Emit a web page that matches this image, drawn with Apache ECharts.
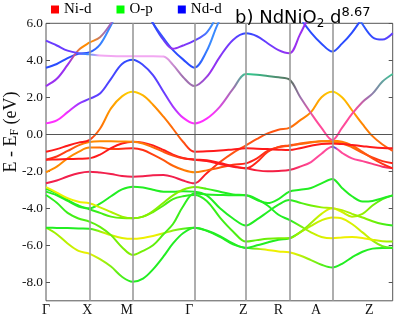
<!DOCTYPE html>
<html><head><meta charset="utf-8">
<script src="https://cdn.jsdelivr.net/npm/echarts@6/dist/echarts.min.js"></script>
<style>html,body{margin:0;padding:0;background:#fff}#c{width:399px;height:315px}</style>
</head><body><div id="c"></div>
<script>
// ---- k-path (distance along the path) ----
const kPath = [0,10.8,21.6,32.5,43.3,54,65,76,86.7,97,107,117.5,127,137,148.3,160.7,174,187,200,211,221.6,232.5,243.3,254,265,275.5,286.3,296,306,316.5,326.5,336.5,346.7];
const kEnd = 346.7;
const symPoints = [43.3, 86.7, 148.3, 200, 243.3, 286.3];
const tickPos = [0, 41.3, 80.7, 143.3, 197.3, 232.3, 270, 323.3];
const tickLabels = ['Γ','X','M','Γ','Z','R','A','Z'];
const yTicks = [-8,-6,-4,-2,0,2,4,6];
const legendNames = ['Ni-d','O-p','Nd-d'];

// ---- band energies (eV) at kPath ----
const bandC1 = [0.59,0.75,1.2,1.65,1.91,2.2,3.0,3.8,4.03,3.75,3.2,2.3,1.5,0.9,0.59,0.85,1.5,2.45,3.26,3.22,3.15,3.08,2.97,2.03,1.14,0.35,-0.31,0.35,1.1,1.75,2.2,2.85,3.26];
const bandC2 = [5.06,4.8,4.52,4.38,4.32,4.26,4.23,4.22,4.22,4.22,4.22,4.2,3.75,3.1,2.61,3.1,4.2,5.1,5.46,5.3,4.92,4.55,4.38,5.4,6.6,7.6,8.2,8.4,8.4,8.3,8.2,8.1,8.0];
const bandC3 = [2.61,3.0,3.75,4.55,4.95,5.25,6.0,7.0,7.6,7.0,6.0,5.1,4.62,4.8,5.06,5.5,6.6,7.2,7.6,7.5,7.5,7.6,7.8,8,8,8,8,7.6,6.9,5.95,5.25,5.12,5.46];
const bandC4 = [3.6,3.8,4.12,4.35,4.43,4.85,5.9,7.0,7.8,7.0,6.0,5.2,4.55,4.05,3.6,4.5,6.2,7.0,7.5,7.6,7.6,7.5,7.2,6.3,5.5,4.9,4.47,4.9,5.5,6.3,7.0,7.5,7.5];
const bandY  = [-0.94,-0.8,-0.62,-0.45,-0.31,0.3,1.4,2.05,2.30,2.1,1.6,0.95,0.3,-0.4,-0.94,-0.92,-0.88,-0.82,-0.76,-0.78,-0.8,-0.83,-0.85,-0.75,-0.62,-0.52,-0.5,-0.53,-0.58,-0.64,-0.7,-0.74,-0.76];
const bandR5 = [-2.65,-2.5,-2.28,-2.1,-2.02,-2.07,-2.15,-2.25,-2.29,-2.27,-2.22,-2.2,-2.3,-2.5,-2.65,-2.1,-1.5,-1.0,-0.6,-0.25,0.05,0.25,0.35,0.75,1.2,2.0,2.30,2.0,1.3,0.55,-0.1,-0.55,-0.9];
const bandD1 = [-1.37,-1.2,-0.9,-0.6,-0.42,-0.38,-0.38,-0.39,-0.4,-0.5,-0.7,-0.95,-1.15,-1.3,-1.37,-1.4,-1.55,-1.72,-1.84,-1.5,-0.95,-0.68,-0.6,-0.52,-0.45,-0.38,-0.35,-0.4,-0.6,-0.95,-1.3,-1.6,-1.84];
const bandD2 = [-1.37,-1.36,-1.34,-1.32,-1.3,-1.1,-0.75,-0.5,-0.4,-0.45,-0.6,-0.85,-1.1,-1.28,-1.37,-1.45,-1.6,-1.75,-1.84,-1.95,-2.0,-1.98,-1.93,-1.75,-1.5,-1.05,-0.67,-1.0,-1.3,-1.45,-1.6,-1.75,-1.84];
const bandD3 = [-2.05,-1.75,-1.3,-0.95,-0.72,-0.72,-0.8,-0.78,-0.76,-0.85,-1.1,-1.4,-1.7,-1.92,-2.05,-1.95,-1.8,-1.65,-1.57,-1.3,-0.9,-0.7,-0.62,-0.5,-0.42,-0.38,-0.4,-0.48,-0.7,-1.0,-1.25,-1.45,-1.57];
const bandO1 = [-2.85,-3.15,-3.45,-3.65,-3.73,-3.95,-4.2,-4.45,-4.54,-4.45,-4.15,-3.7,-3.3,-3.0,-2.85,-2.95,-3.1,-3.25,-3.3,-3.55,-3.72,-3.5,-3.1,-3.0,-2.9,-2.65,-2.41,-2.9,-3.35,-3.63,-3.6,-3.45,-3.3];
const bandO2 = [-2.95,-3.2,-3.55,-3.85,-4.0,-3.75,-3.35,-2.98,-2.83,-2.88,-3.0,-3.1,-3.1,-3.08,-3.1,-3.3,-4.0,-4.55,-4.93,-4.6,-4.2,-3.8,-3.55,-3.7,-3.85,-3.95,-4.0,-4.1,-4.3,-4.5,-4.7,-4.85,-4.93];
const bandO3 = [-3.28,-3.7,-4.25,-4.55,-4.72,-5.0,-5.45,-6.1,-6.52,-6.3,-6.0,-5.4,-4.85,-3.9,-3.2,-3.25,-3.28,-3.3,-3.3,-3.5,-3.85,-4.35,-4.63,-4.95,-5.3,-5.55,-5.62,-5.58,-5.55,-5.6,-5.7,-5.78,-5.8];
const bandO4 = [-3.1,-3.3,-3.6,-3.9,-4.05,-4.25,-4.45,-4.53,-4.54,-4.45,-4.2,-3.85,-3.5,-3.35,-3.28,-3.6,-4.5,-5.25,-5.8,-5.72,-5.65,-5.62,-5.62,-5.3,-4.95,-4.65,-4.5,-4.55,-4.85,-5.3,-5.75,-6.05,-6.14];
const bandO5 = [-5.05,-5.06,-5.07,-5.09,-5.1,-5.25,-5.45,-5.6,-5.65,-5.6,-5.5,-5.35,-5.2,-5.1,-5.05,-5.2,-5.5,-5.9,-6.14,-6.0,-5.85,-5.7,-5.62,-5.3,-4.8,-4.3,-4.0,-4.2,-4.45,-4.3,-3.85,-3.5,-3.3];
const bandO6 = [-5.05,-5.4,-5.9,-6.3,-6.45,-6.75,-7.15,-7.7,-7.97,-7.8,-7.3,-6.6,-5.9,-5.35,-5.05,-5.22,-5.55,-5.95,-6.14,-6.18,-6.25,-6.33,-6.38,-6.55,-6.8,-7.05,-7.2,-7.0,-6.65,-6.35,-6.18,-6.14,-6.14];

// ---- orbital character along each band: [k, character code] ----
const charC1 = [[0,'m'],[20,'m'],[43.3,'P'],[86.7,'b'],[120,'P'],[140,'m'],[165,'m'],[187,'u'],[200,'t'],[243.3,'k'],[254,'u'],[268,'n'],[305,'n'],[320,'u'],[346.7,'t']];
const charC2 = [[0,'P'],[30,'P'],[43.3,'B'],[55,'l'],[117,'l'],[137,'u'],[148.3,'u'],[165,'p'],[187,'P'],[200,'b'],[221,'P'],[243.3,'p'],[346.7,'p']];
const charC3 = [[0,'p'],[25,'p'],[38,'o'],[48,'o'],[60,'u'],[86.7,'p'],[110,'b'],[127,'p'],[148.3,'P'],[165,'B'],[300,'B'],[320,'b'],[346.7,'P']];
const charC4 = [[0,'b'],[43.3,'b'],[60,'B'],[130,'b'],[148.3,'b'],[165,'B'],[260,'b'],[286.3,'b'],[310,'b'],[346.7,'B']];
const charY  = [[0,'r'],[43.3,'r'],[50,'O'],[62,'o'],[86.7,'y'],[112,'o'],[138,'O'],[148.3,'r'],[346.7,'r']];
const charR5 = [[0,'c'],[148.3,'c'],[160,'r'],[180,'O'],[230,'O'],[262,'o'],[286.3,'y'],[312,'o'],[346.7,'O']];
const charD1 = [[0,'r'],[30,'O'],[43.3,'o'],[86.7,'o'],[120,'O'],[148.3,'r'],[200,'r'],[243.3,'O'],[286.3,'o'],[320,'O'],[346.7,'r']];
const charD2 = [[0,'r'],[148.3,'r'],[243.3,'c'],[262,'n'],[283,'n'],[286.3,'b'],[290,'n'],[312,'n'],[346.7,'c']];
const charD3 = [[0,'o'],[43.3,'o'],[86.7,'r'],[148.3,'o'],[200,'r'],[243.3,'O'],[286.3,'o'],[346.7,'r']];
const charO1 = [[0,'w'],[43.3,'w'],[86.7,'G'],[148.3,'G'],[170,'g'],[346.7,'g']];
const charO2 = [[0,'g'],[243.3,'g'],[270,'G'],[286.3,'Y'],[320,'G'],[346.7,'g']];
const charO3 = [[0,'g'],[86.7,'G'],[148.3,'g'],[243.3,'g'],[265,'Y'],[286.3,'w'],[320,'w'],[346.7,'G']];
const charO4 = [[0,'g'],[43.3,'g'],[86.7,'G'],[148.3,'g'],[243.3,'G'],[286.3,'w'],[320,'Y'],[346.7,'g']];
const charO5 = [[0,'g'],[43.3,'g'],[60,'Y'],[86.7,'w'],[110,'w'],[148.3,'g'],[243.3,'g'],[270,'Y'],[286.3,'w'],[320,'G'],[346.7,'g']];
const charO6 = [[0,'G'],[43.3,'w'],[86.7,'g'],[148.3,'g'],[200,'g'],[220,'w'],[243.3,'w'],[286.3,'g'],[346.7,'g']];

// ---- styles ----
const PALETTE = {
  r:'#ff1a1a', c:'#f2204c', O:'#ff5412', o:'#ff8a00', y:'#ffd800',
  w:'#eef000', Y:'#c4f000', G:'#84f000', g:'#22ee22',
  t:'#30cc90', k:'#5a7060', m:'#ff30ff', p:'#9a30f0', P:'#6a3cff',
  b:'#2a4cff', B:'#3a8cff', l:'#f2a8f2', n:'#ff4a9a', u:'#a070b0'
};
const LEGEND_COLORS = ['#ff0000','#00ff00','#0000ff'];

const bands = [
  [bandO6,charO6],[bandO5,charO5],[bandO4,charO4],[bandO3,charO3],[bandO2,charO2],[bandO1,charO1],
  [bandR5,charR5],[bandD3,charD3],[bandD2,charD2],[bandD1,charD1],[bandY,charY],
  [bandC4,charC4],[bandC3,charC3],[bandC2,charC2],[bandC1,charC1]
];

function grad(ch){
  return new echarts.graphic.LinearGradient(0,0,1,0,
    ch.map(([k,c]) => ({offset: k / kEnd, color: PALETTE[c]})));
}

const serif = 'Liberation Serif';
const series = [];
// helper series carrying the high-symmetry lines and the Fermi level
series.push({
  type:'line', data:[[0,0]], symbol:'none', silent:true, z:1,
  lineStyle:{width:0},
  markLine:{
    silent:true, symbol:'none', animation:false,
    label:{show:false},
    lineStyle:{color:'#9a9a9a', width:1.6, type:'solid'},
    data: symPoints.map(k => ({xAxis:k})).concat([{yAxis:0, lineStyle:{color:'#555', width:1, type:'solid'}}])
  }
});
bands.forEach(([e,ch]) => {
  series.push({
    type:'line', data: kPath.map((k,i)=>[k,e[i]]),
    symbol:'none', showSymbol:false, smooth:0.35, silent:true, z:3,
    lineStyle:{width:2, color: grad(ch)}
  });
});
legendNames.forEach((n,i) => {
  series.push({name:n, type:'line', data:[], itemStyle:{color:LEGEND_COLORS[i]}, lineStyle:{color:LEGEND_COLORS[i]}});
});

const chart = echarts.init(document.getElementById('c'), null, {renderer:'canvas'});
chart.setOption({
  animation:false,
  backgroundColor:'#fff',
  title:{
    left:230, top:1,
    text:'{a|b) NdNiO}{sub|2}{a| d}{sup|8.67}',
    textStyle:{
      fontWeight:'normal',
      rich:{
        a:{fontFamily:'DejaVu Sans', fontWeight:'normal', fontSize:18, color:'#000', lineHeight:24, verticalAlign:'middle'},
        sub:{fontFamily:'DejaVu Sans', fontWeight:'normal', fontSize:12, color:'#000', lineHeight:13, verticalAlign:'bottom'},
        sup:{fontFamily:'DejaVu Sans', fontWeight:'normal', fontSize:13, color:'#000', lineHeight:13, verticalAlign:'top'}
      }
    }
  },
  legend:{
    left:46, top:-3, icon:'rect', itemWidth:8, itemHeight:8, itemGap:25,
    data: legendNames,
    textStyle:{fontFamily:serif, fontSize:15, color:'#000'}
  },
  grid:{left:46, right:6.3, top:23.3, bottom:14.2, show:true, borderColor:'#555', borderWidth:1, containLabel:false, outerBoundsMode:'none'},
  xAxis:{
    type:'value', min:0, max:kEnd,
    axisLine:{show:false}, axisTick:{show:false}, splitLine:{show:false},
    axisLabel:{
      customValues: tickPos,
      formatter: v => { const i = tickPos.findIndex(p => Math.abs(p - v) < 0.01); return i >= 0 ? tickLabels[i] : ''; },
      fontFamily:serif, fontSize:14, color:'#111', margin:3
    }
  },
  yAxis:[{
    type:'value', min:-9, max:6,
    axisLine:{show:false}, splitLine:{show:false},
    axisTick:{show:true, inside:true, length:4, customValues:yTicks, lineStyle:{color:'#555'}},
    axisLabel:{customValues:yTicks, formatter: v => Number(v).toFixed(1), fontFamily:serif, fontSize:13.3, color:'#111', margin:3}
  },{
    type:'value', min:-9, max:6, position:'right',
    axisLine:{show:false}, splitLine:{show:false}, axisLabel:{show:false},
    axisTick:{show:true, inside:true, length:4, customValues:yTicks, lineStyle:{color:'#555'}}
  }],
  graphic:[{
    type:'text', x:11, y:132, rotation:Math.PI/2, silent:true,
    style:{
      text:'{a|E - E}{s|F}{a| (eV)}',
      align:'center', verticalAlign:'middle',
      rich:{
        a:{fontFamily:serif, fontSize:18, fill:'#111', lineHeight:20, verticalAlign:'middle'},
        s:{fontFamily:serif, fontSize:12, fill:'#111', lineHeight:12, verticalAlign:'bottom'}
      }
    }
  }],
  series: series
});
</script>
</body></html>
